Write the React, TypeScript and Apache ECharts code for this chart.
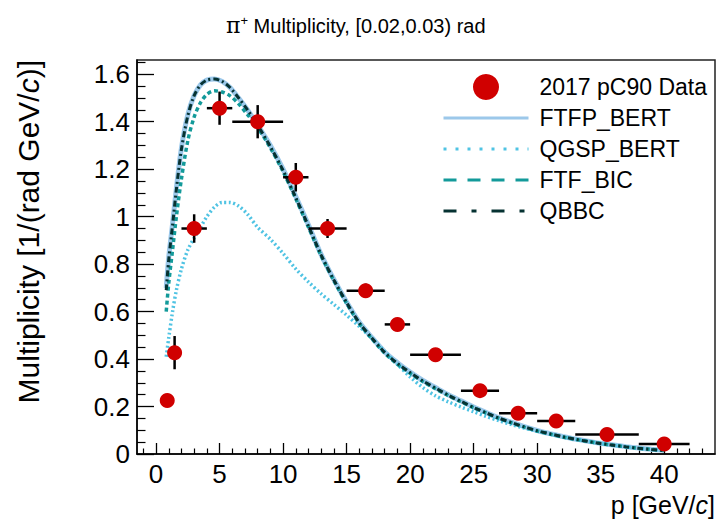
import React, { useEffect, useRef } from "react";
import * as echarts from "echarts";

// ---- data ----
const momentum = [0.88, 1.46, 3.0, 5.0, 8.0, 11.0, 13.5, 16.5, 19.0, 22.0, 25.5, 28.5, 31.5, 35.5, 40.0];
const binLow = [0.6, 1.2, 2, 4, 6, 10, 12, 15, 18, 20, 24, 27, 30, 33, 38];
const binHigh = [1.15, 1.7, 4, 6, 10, 12, 15, 18, 20, 24, 27, 30, 33, 38, 42];
const multiplicity = [0.225, 0.427, 0.95, 1.457, 1.4, 1.166, 0.95, 0.688, 0.546, 0.418, 0.267, 0.172, 0.139, 0.082, 0.042];
const statErr = [0.01, 0.07, 0.06, 0.07, 0.07, 0.06, 0.04, 0.03, 0.02, 0.015, 0.012, 0.01, 0.008, 0.006, 0.004];

const pGrid = [0.8, 1.0, 1.3, 1.6, 2.0, 2.5, 3.0, 3.5, 4.0, 4.6, 5.2, 5.8, 6.5, 7.2, 8, 9, 10, 11, 12, 13, 14, 15, 16, 17, 18, 19, 20, 21, 22, 23, 24, 25, 26, 27, 28, 29, 30, 31, 32, 33, 34, 35, 36, 37, 38, 39, 40];
const ftfpBert = [0.70, 0.83, 0.97, 1.12, 1.29, 1.43, 1.51, 1.555, 1.575, 1.58, 1.57, 1.545, 1.50, 1.45, 1.385, 1.30, 1.20, 1.085, 0.965, 0.84, 0.735, 0.64, 0.555, 0.49, 0.43, 0.385, 0.345, 0.31, 0.28, 0.25, 0.224, 0.198, 0.175, 0.152, 0.133, 0.115, 0.099, 0.086, 0.074, 0.063, 0.054, 0.045, 0.038, 0.031, 0.025, 0.02, 0.016];
const qgspBert = [0.41, 0.49, 0.60, 0.69, 0.78, 0.86, 0.91, 0.955, 1.0, 1.04, 1.06, 1.06, 1.045, 1.01, 0.955, 0.905, 0.845, 0.78, 0.725, 0.675, 0.63, 0.585, 0.537, 0.487, 0.432, 0.378, 0.325, 0.28, 0.245, 0.22, 0.198, 0.178, 0.158, 0.14, 0.124, 0.109, 0.096, 0.084, 0.073, 0.062, 0.053, 0.044, 0.037, 0.03, 0.024, 0.019, 0.015];
const ftfBic = [0.60, 0.72, 0.86, 1.00, 1.16, 1.32, 1.42, 1.48, 1.515, 1.53, 1.525, 1.51, 1.475, 1.43, 1.375, 1.29, 1.19, 1.075, 0.955, 0.835, 0.73, 0.635, 0.55, 0.485, 0.425, 0.378, 0.34, 0.305, 0.275, 0.246, 0.22, 0.195, 0.172, 0.15, 0.131, 0.113, 0.097, 0.084, 0.072, 0.062, 0.053, 0.044, 0.037, 0.03, 0.024, 0.019, 0.015];
const qbbc = [0.69, 0.82, 0.965, 1.115, 1.285, 1.425, 1.51, 1.555, 1.575, 1.58, 1.57, 1.545, 1.50, 1.45, 1.385, 1.295, 1.195, 1.08, 0.96, 0.838, 0.733, 0.638, 0.553, 0.488, 0.428, 0.382, 0.343, 0.308, 0.278, 0.248, 0.222, 0.196, 0.173, 0.151, 0.132, 0.114, 0.098, 0.085, 0.073, 0.062, 0.053, 0.044, 0.037, 0.03, 0.024, 0.019, 0.015];

const xMajorTicks = [0, 5, 10, 15, 20, 25, 30, 35, 40];
const xMinorTicks = [-1, 1, 2, 3, 4, 6, 7, 8, 9, 11, 12, 13, 14, 16, 17, 18, 19, 21, 22, 23, 24, 26, 27, 28, 29, 31, 32, 33, 34, 36, 37, 38, 39, 41, 42, 43];
const yMajorTicks = [0, 0.2, 0.4, 0.6, 0.8, 1, 1.2, 1.4, 1.6];
const yMinorTicks = [0.05, 0.1, 0.15, 0.25, 0.3, 0.35, 0.45, 0.5, 0.55, 0.65, 0.7, 0.75, 0.85, 0.9, 0.95, 1.05, 1.1, 1.15, 1.25, 1.3, 1.35, 1.45, 1.5, 1.55, 1.65];

const FONT = "'Liberation Sans', Arial, Helvetica, sans-serif";

export default function App() {
  const ref = useRef<HTMLDivElement>(null);
  useEffect(() => {
    if (!ref.current) return;
    const chart = echarts.init(ref.current, null, { renderer: "svg" });
    const pairs = (ys: number[]) => pGrid.map((p, i) => [p, ys[i]]);
    const errData = momentum.map((p, i) => [p, multiplicity[i], binLow[i], binHigh[i], multiplicity[i] - statErr[i], multiplicity[i] + statErr[i]]);
    const xMin = -1.5, xMax = 44, yMin = 0, yMax = 1.66;
    const axisTextCommon = { color: "#000", fontFamily: FONT };
    chart.setOption({
      animation: false,
      backgroundColor: "#fff",
      textStyle: { fontFamily: FONT },
      title: {
        text: "{pi|π}{sup|+} {t|Multiplicity, [0.02,0.03) rad}",
        left: 221,
        top: 9,
        textStyle: {
          fontSize: 20,
          fontWeight: "normal",
          color: "#000",
          fontFamily: FONT,
          rich: {
            pi: { fontSize: 22, fontFamily: "'DejaVu Serif', serif", color: "#000" },
            sup: { fontSize: 13, padding: [0, 0, 10, 0], color: "#000", fontFamily: FONT },
            t: { fontSize: 20, color: "#000", fontFamily: FONT },
          },
        },
      },
      legend: {
        orient: "vertical",
        left: 437,
        top: 69,
        itemWidth: 85,
        itemHeight: 26,
        itemGap: 5,
        selectedMode: false,
        textStyle: { fontSize: 23, color: "#000", fontFamily: FONT, padding: [0, 0, 0, 6], lineHeight: 26 },
        data: [
          { name: "2017 pC90 Data", icon: "circle" },
          { name: "FTFP_BERT", itemStyle: { opacity: 0 }, lineStyle: { width: 3, type: "solid" } },
          { name: "QGSP_BERT", itemStyle: { opacity: 0 }, lineStyle: { width: 3, type: [3, 9] } },
          { name: "FTF_BIC", itemStyle: { opacity: 0 }, lineStyle: { width: 3, type: [13, 11] } },
          { name: "QBBC", itemStyle: { opacity: 0 }, lineStyle: { width: 3, type: [13, 15, 5, 15] } },
        ],
      },
      grid: {
        left: 137,
        right: 6,
        top: 60,
        bottom: 70,
        show: true,
        borderColor: "#222",
        borderWidth: 1.5,
        backgroundColor: "transparent",
      },
      xAxis: [
        {
          type: "value",
          min: xMin,
          max: xMax,
          name: "p [GeV/{i|c}]",
          nameLocation: "end",
          nameGap: 0,
          nameTextStyle: {
            ...axisTextCommon,
            fontSize: 25,
            align: "right",
            verticalAlign: "middle",
            padding: [102, 0, 0, 0],
            rich: { i: { fontStyle: "italic", fontSize: 25, color: "#000", fontFamily: FONT } },
          },
          axisLine: { show: true, onZero: false, lineStyle: { color: "#000", width: 1.5 } },
          axisTick: { show: true, inside: true, length: 11, customValues: xMajorTicks, lineStyle: { color: "#000", width: 1.3 } },
          axisLabel: { show: true, customValues: xMajorTicks, fontSize: 26, margin: 7, ...axisTextCommon },
          splitLine: { show: false },
        },
        {
          type: "value",
          min: xMin,
          max: xMax,
          position: "bottom",
          axisLine: { show: false, onZero: false },
          axisTick: { show: true, inside: true, length: 5.5, customValues: xMinorTicks, lineStyle: { color: "#000", width: 1.2 } },
          axisLabel: { show: false },
          splitLine: { show: false },
        },
      ],
      yAxis: [
        {
          type: "value",
          min: yMin,
          max: yMax,
          name: "Multiplicity [1/(rad GeV/{i|c})]",
          nameLocation: "end",
          nameGap: 0,
          nameRotate: 90,
          nameTextStyle: {
            ...axisTextCommon,
            fontSize: 30,
            align: "right",
            verticalAlign: "middle",
            padding: [0, 0, 218, 0],
            rich: { i: { fontStyle: "italic", fontSize: 30, color: "#000", fontFamily: FONT } },
          },
          axisLine: { show: true, onZero: false, lineStyle: { color: "#000", width: 1.5 } },
          axisTick: { show: true, inside: true, length: 17, customValues: yMajorTicks, lineStyle: { color: "#000", width: 1.3 } },
          axisLabel: { show: true, customValues: yMajorTicks, fontSize: 26, margin: 7, ...axisTextCommon },
          splitLine: { show: false },
        },
        {
          type: "value",
          min: yMin,
          max: yMax,
          position: "left",
          axisLine: { show: false, onZero: false },
          axisTick: { show: true, inside: true, length: 8.5, customValues: yMinorTicks, lineStyle: { color: "#000", width: 1.2 } },
          axisLabel: { show: false },
          splitLine: { show: false },
        },
      ],
      series: [
        {
          name: "FTFP_BERT",
          type: "line",
          data: pairs(ftfpBert),
          smooth: 0.3,
          symbol: "none",
          showSymbol: false,
          lineStyle: { color: "#9cc8ea", width: 5 },
          itemStyle: { color: "#9cc8ea" },
          z: 2,
        },
        {
          name: "QGSP_BERT",
          type: "line",
          data: pairs(qgspBert),
          smooth: 0.3,
          symbol: "none",
          showSymbol: false,
          lineStyle: { color: "#4fc3e3", width: 3.5, type: [2, 2.5] },
          itemStyle: { color: "#4fc3e3" },
          z: 3,
        },
        {
          name: "FTF_BIC",
          type: "line",
          data: pairs(ftfBic),
          smooth: 0.3,
          symbol: "none",
          showSymbol: false,
          lineStyle: { color: "#139a9a", width: 3.5, type: [4, 3] },
          itemStyle: { color: "#139a9a" },
          z: 4,
        },
        {
          name: "QBBC",
          type: "line",
          data: pairs(qbbc),
          smooth: 0.3,
          symbol: "none",
          showSymbol: false,
          lineStyle: { color: "#063232", width: 3, type: [6, 3, 2, 3] },
          itemStyle: { color: "#063232" },
          z: 5,
        },
        {
          name: "errors",
          type: "custom",
          data: errData,
          encode: { x: 0, y: 1 },
          z: 6,
          renderItem: (params: any, api: any) => {
            const x = api.value(0), y = api.value(1);
            const x0 = api.coord([api.value(2), y]);
            const x1 = api.coord([api.value(3), y]);
            const y0 = api.coord([x, api.value(4)]);
            const y1 = api.coord([x, api.value(5)]);
            const style = { stroke: "#000", lineWidth: 2.5 };
            return {
              type: "group",
              children: [
                { type: "line", shape: { x1: x0[0], y1: x0[1], x2: x1[0], y2: x1[1] }, style },
                { type: "line", shape: { x1: y0[0], y1: y0[1], x2: y1[0], y2: y1[1] }, style },
              ],
            };
          },
        },
        {
          name: "2017 pC90 Data",
          type: "scatter",
          data: momentum.map((p, i) => [p, multiplicity[i]]),
          symbol: "circle",
          symbolSize: 15,
          itemStyle: { color: "#d00000", opacity: 1 },
          z: 7,
        },
      ],
    });
    return () => chart.dispose();
  }, []);
  return <div ref={ref} style={{ position: "fixed", left: 0, top: 0, width: 721, height: 524 }} />;
}
